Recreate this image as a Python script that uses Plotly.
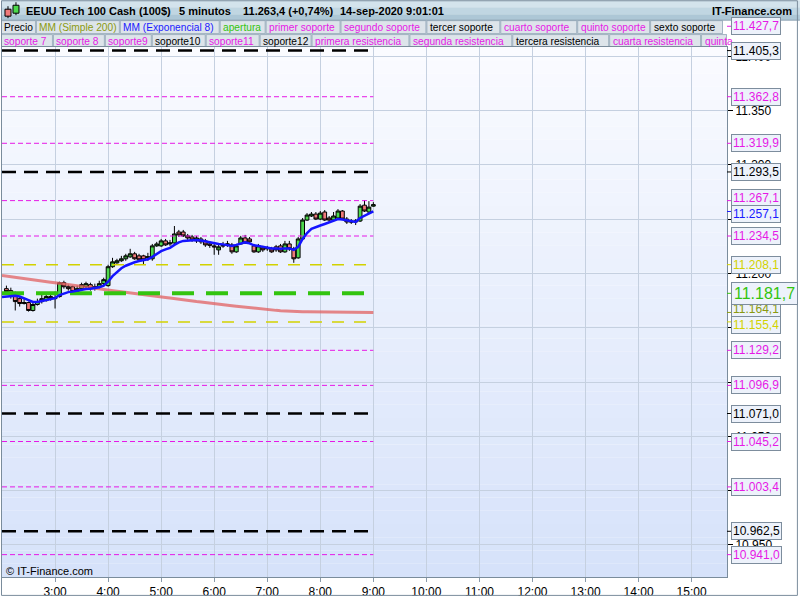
import plotly.graph_objects as go
import pandas as pd

# ---------------- data ----------------
times = pd.date_range("2020-09-14 02:00", periods=85, freq="5min")
candle_times = times[1:]

open_ = [11186.0, 11184.2, 11181.4, 11176.8, 11172.3, 11173.2, 11165.9, 11171.4, 11174.1, 11175.0,
         11178.7, 11176.8, 11178.7, 11191.5, 11187.8, 11187.8, 11183.3, 11186.0, 11187.8, 11189.7,
         11186.9, 11187.8, 11190.6, 11188.8, 11206.2, 11209.8, 11211.7, 11213.5, 11215.3, 11218.1,
         11216.2, 11216.2, 11214.4, 11213.5, 11225.4, 11225.4, 11230.0, 11227.2, 11228.1, 11238.2,
         11238.2, 11234.6, 11233.6, 11230.0, 11231.8, 11230.0, 11227.2, 11225.4, 11221.7, 11226.3,
         11226.3, 11226.3, 11219.9, 11227.2, 11232.7, 11231.8, 11225.4, 11219.9, 11223.6, 11222.7,
         11222.7, 11224.5, 11225.4, 11219.9, 11227.2, 11222.7, 11214.4, 11231.8, 11249.2, 11252.9,
         11254.7, 11250.1, 11256.6, 11251.1, 11249.2, 11251.1, 11257.5, 11250.1, 11248.3, 11247.4,
         11248.3, 11262.9, 11256.6, 11262.0]
high = [11188.8, 11186.9, 11183.3, 11178.7, 11176.8, 11174.1, 11173.2, 11176.8, 11180.5, 11181.4,
        11181.4, 11183.3, 11192.4, 11193.3, 11189.7, 11188.8, 11188.8, 11191.5, 11192.4, 11191.5,
        11190.6, 11193.3, 11196.1, 11208.0, 11214.4, 11213.5, 11216.2, 11218.1, 11222.7, 11219.9,
        11218.1, 11217.2, 11219.0, 11227.2, 11229.1, 11231.8, 11231.8, 11230.9, 11243.7, 11240.1,
        11240.1, 11236.4, 11235.5, 11234.6, 11233.6, 11231.8, 11229.1, 11228.1, 11227.2, 11229.1,
        11230.0, 11228.1, 11227.2, 11234.6, 11235.5, 11233.6, 11227.2, 11227.2, 11225.4, 11225.4,
        11224.5, 11226.3, 11227.2, 11230.0, 11230.0, 11224.5, 11233.6, 11251.1, 11255.6, 11256.6,
        11256.6, 11257.5, 11258.4, 11252.9, 11256.6, 11259.3, 11258.4, 11252.0, 11250.1, 11250.1,
        11263.9, 11267.5, 11266.6, 11265.7]
low = [11181.4, 11176.8, 11165.9, 11169.5, 11171.4, 11164.9, 11164.9, 11170.4, 11172.3, 11174.1,
       11175.0, 11167.7, 11177.8, 11186.0, 11184.2, 11182.3, 11181.4, 11185.1, 11186.0, 11184.2,
       11184.2, 11186.0, 11188.8, 11187.8, 11205.2, 11208.9, 11210.7, 11211.7, 11214.4, 11212.6,
       11211.7, 11208.0, 11211.7, 11211.7, 11224.5, 11224.5, 11225.4, 11225.4, 11227.2, 11233.6,
       11233.6, 11230.9, 11229.1, 11228.1, 11227.2, 11224.5, 11223.6, 11217.2, 11217.2, 11223.6,
       11224.5, 11218.1, 11219.0, 11226.3, 11227.2, 11227.2, 11219.0, 11219.0, 11219.9, 11220.8,
       11219.0, 11219.9, 11219.0, 11219.0, 11220.8, 11209.8, 11213.5, 11230.9, 11248.3, 11252.0,
       11249.2, 11249.2, 11248.3, 11246.5, 11247.4, 11250.1, 11249.2, 11245.6, 11245.6, 11244.6,
       11247.4, 11256.6, 11255.6, 11261.5]
close = [11183.3, 11181.4, 11174.1, 11172.3, 11173.2, 11165.9, 11171.4, 11174.1, 11176.8, 11178.7,
         11176.8, 11177.8, 11191.5, 11187.8, 11186.0, 11183.3, 11186.0, 11189.7, 11190.6, 11186.0,
         11187.8, 11190.6, 11194.3, 11206.2, 11210.7, 11211.7, 11213.5, 11216.2, 11218.1, 11213.5,
         11212.6, 11212.6, 11215.3, 11225.4, 11227.2, 11230.0, 11226.3, 11228.1, 11236.4, 11235.5,
         11234.6, 11232.7, 11230.9, 11232.7, 11229.1, 11226.3, 11225.9, 11224.5, 11224.5, 11225.4,
         11227.2, 11219.9, 11225.4, 11232.7, 11228.1, 11229.1, 11219.9, 11225.4, 11221.7, 11223.6,
         11219.9, 11221.7, 11219.9, 11227.2, 11222.7, 11213.5, 11231.8, 11249.2, 11253.8, 11254.7,
         11250.1, 11255.6, 11249.2, 11249.2, 11252.9, 11257.5, 11250.1, 11247.4, 11247.4, 11248.3,
         11262.0, 11257.5, 11261.1, 11263.4]
ema8 = [11178.4, 11178.7, 11179.2, 11179.4, 11178.7, 11177.3, 11175.5, 11173.7, 11173.7, 11174.6,
        11175.5, 11176.4, 11177.3, 11180.1, 11181.4, 11182.8, 11183.3, 11184.2, 11185.1, 11185.6,
        11186.0, 11186.5, 11187.2, 11188.8, 11192.4, 11197.5, 11201.6, 11204.8, 11207.1, 11208.9,
        11210.3, 11211.4, 11212.2, 11213.1, 11215.3, 11218.1, 11220.5, 11222.2, 11223.6, 11226.3,
        11228.6, 11230.0, 11230.4, 11230.4, 11230.9, 11230.4, 11229.5, 11228.6, 11228.1, 11227.2,
        11226.8, 11225.9, 11225.4, 11226.3, 11227.7, 11228.6, 11227.7, 11225.9, 11225.4, 11224.5,
        11223.6, 11223.1, 11223.1, 11222.7, 11223.1, 11223.1, 11221.7, 11224.5, 11231.8, 11237.3,
        11241.0, 11242.8, 11244.2, 11245.6, 11246.9, 11248.8, 11250.1, 11249.7, 11248.8, 11248.3,
        11247.4, 11251.1, 11252.9, 11254.7, 11257.1]
sma200 = [11198.2, 11197.7, 11197.2, 11196.7, 11196.2, 11195.7, 11195.2, 11194.7, 11194.1, 11193.3,
          11192.7, 11192.0, 11191.4, 11190.8, 11190.1, 11189.7, 11189.0, 11188.5, 11187.9, 11187.4,
          11186.8, 11186.3, 11185.6, 11185.2, 11184.6, 11184.2, 11183.6, 11183.1, 11182.5, 11182.0,
          11181.4, 11180.9, 11180.4, 11179.9, 11179.3, 11178.8, 11178.3, 11177.8, 11177.3, 11176.7,
          11176.2, 11175.7, 11175.1, 11174.7, 11174.2, 11173.8, 11173.4, 11172.9, 11172.3, 11171.7,
          11171.3, 11170.8, 11170.3, 11169.8, 11169.3, 11168.9, 11168.4, 11167.9, 11167.4, 11167.0,
          11166.6, 11166.3, 11166.0, 11165.7, 11165.4, 11165.2, 11165.0, 11164.8, 11164.7, 11164.7,
          11164.7, 11164.7, 11164.7, 11164.6, 11164.5, 11164.4, 11164.3, 11164.3, 11164.2, 11164.2,
          11164.2, 11164.1, 11164.1, 11164.1, 11164.1]

level_values = [11427.7, 11405.3, 11362.8, 11319.9, 11293.5, 11267.1, 11234.5, 11208.1, 11181.7,
                11155.4, 11129.2, 11096.9, 11071.0, 11045.2, 11003.4, 10962.5, 10941.0]
level_kinds = ["pink", "black", "pink", "pink", "black", "pink", "pink", "yellow", "green",
               "yellow", "pink", "pink", "black", "pink", "pink", "black", "pink"]

legend_row1 = ["Precio", "MM (Simple 200)", "MM (Exponencial 8)", "apertura", "primer soporte",
               "segundo soporte", "tercer soporte", "cuarto soporte", "quinto soporte", "sexto soporte"]
legend_row1_kinds = ["black", "olive", "blue", "green", "pink", "pink", "black", "pink", "pink", "black"]
legend_row2 = ["soporte 7", "soporte 8", "soporte9", "soporte10", "soporte11", "soporte12",
               "primera resistencia", "segunda resistencia", "tercera resistencia",
               "cuarta resistencia", "quinta"]
legend_row2_kinds = ["pink", "pink", "pink", "black", "pink", "black", "pink", "pink", "black",
                     "pink", "pink"]

hour_ticks = pd.date_range("2020-09-14 03:00", periods=13, freq="60min")
hour_labels = ["3:00", "4:00", "5:00", "6:00", "7:00", "8:00", "9:00", "10:00", "11:00",
               "12:00", "13:00", "14:00", "15:00"]
y_ticks = [10950, 11000, 11050, 11100, 11150, 11200, 11250, 11300, 11350, 11400]

title_parts = ["EEUU Tech 100 Cash (100$)", "5 minutos", "11.263,4 (+0,74%)", "14-sep-2020 9:01:01"]

# ---------------- styles ----------------
FONT = "Liberation Sans, Arial, sans-serif"
COL = {"pink": "#e619e6", "black": "#000000", "yellow": "#d2d200", "green": "#33c40f",
       "olive": "#8a9a10", "blue": "#1a1aff"}
DASH = {"pink": ("5px,3px", 1), "black": ("14px,8px", 2.5), "yellow": ("12px,10px", 1.5),
        "green": ("22px,12px", 4)}

W, H = 800, 600
L, R, T, B = 1, 73, 47, 20
PW, PH = W - L - R, H - T - B
YMIN, YMAX = 10920.4, 11408.6
X0, X1 = pd.Timestamp("2020-09-14 02:00"), pd.Timestamp("2020-09-14 15:40")


def xp(px):
    return (px - L) / PW


def yp(py):
    return 1 - (py - T) / PH


def yfrac(v):
    return (v - YMIN) / (YMAX - YMIN)


def fmt(v, dec=1):
    s = f"{v:,.{dec}f}"
    return s.replace(",", "X").replace(".", ",").replace("X", ".")


fig = go.Figure()

# SMA 200
fig.add_trace(go.Scatter(x=times, y=sma200, mode="lines",
                         line=dict(color="rgba(226,96,96,0.75)", width=3), hoverinfo="skip"))

# level lines (end at last candle)
for v, k in zip(level_values, level_kinds):
    d, w = DASH[k]
    fig.add_trace(go.Scatter(x=[times[0], times[-1]], y=[v, v], mode="lines",
                             line=dict(color=COL[k], width=w, dash=d), hoverinfo="skip"))

# candles
fig.add_trace(go.Candlestick(x=candle_times, open=open_, high=high, low=low, close=close,
                             increasing=dict(line=dict(color="#000000", width=1), fillcolor="#4cd94c"),
                             decreasing=dict(line=dict(color="#000000", width=1), fillcolor="#f07a7a"),
                             whiskerwidth=0, hoverinfo="skip"))

# EMA 8
fig.add_trace(go.Scatter(x=times, y=ema8, mode="lines",
                         line=dict(color="#1414ff", width=2.5), hoverinfo="skip"))

shapes = []
annotations = []

# plot background gradient
N = 40
c_top = (250, 251, 255)
c_bot = (214, 226, 250)
for i in range(N):
    t = (i + 0.5) / N
    c = tuple(round(c_top[j] + (c_bot[j] - c_top[j]) * t) for j in range(3))
    shapes.append(dict(type="rect", xref="paper", yref="paper", x0=0, x1=1,
                       y0=1 - (i + 1) / N, y1=1 - i / N, line=dict(width=0),
                       fillcolor=f"rgb{c}", layer="below"))

# header bar
hb = [(0, 7, "#d3e3ec"), (7, 14, "#c0d6e2"), (14, 20, "#adc7d6")]
for a, b_, c in hb:
    shapes.append(dict(type="rect", xref="paper", yref="paper", x0=xp(0), x1=xp(800),
                       y0=yp(b_), y1=yp(a), line=dict(width=0), fillcolor=c, layer="below"))
shapes.append(dict(type="line", xref="paper", yref="paper", x0=xp(0), x1=xp(800),
                   y0=yp(20), y1=yp(20), line=dict(color="#8fa3b3", width=1)))

# header icon
shapes += [
    dict(type="line", xref="paper", yref="paper", x0=xp(7), x1=xp(7), y0=yp(18), y1=yp(6),
         line=dict(color="#000", width=1)),
    dict(type="rect", xref="paper", yref="paper", x0=xp(4), x1=xp(10), y0=yp(16), y1=yp(9),
         line=dict(color="#000", width=1), fillcolor="#f07a7a"),
    dict(type="line", xref="paper", yref="paper", x0=xp(15), x1=xp(15), y0=yp(15), y1=yp(2),
         line=dict(color="#000", width=1)),
    dict(type="rect", xref="paper", yref="paper", x0=xp(12), x1=xp(18), y0=yp(13), y1=yp(5),
         line=dict(color="#000", width=1), fillcolor="#4cd94c"),
]

title_x = [23, 176, 240, 337]
for txt, x in zip(title_parts, title_x):
    annotations.append(dict(text=f"<b>{txt}</b>", xref="paper", yref="paper", x=xp(x), y=yp(10.5),
                            xanchor="left", yanchor="middle", showarrow=False,
                            font=dict(family=FONT, size=11, color="#000")))
annotations.append(dict(text="<b>IT-Finance.com</b>", xref="paper", yref="paper", x=xp(794), y=yp(10.5),
                        xanchor="right", yanchor="middle", showarrow=False,
                        font=dict(family=FONT, size=11, color="#000")))

# legend rows
row1_edges = [0, 35, 119, 219, 265, 340, 426, 500, 577, 650, 723]
row2_edges = [0, 52, 104, 151, 205, 259, 311, 409, 512, 609, 701, 727]
for names, kinds, edges, (ya, yb) in [(legend_row1, legend_row1_kinds, row1_edges, (20, 34)),
                                      (legend_row2, legend_row2_kinds, row2_edges, (34, 47))]:
    shapes.append(dict(type="rect", xref="paper", yref="paper", x0=xp(edges[0]), x1=xp(edges[-1]),
                       y0=yp(yb), y1=yp(ya), line=dict(width=0), fillcolor="#b9cbd7", layer="below"))
    for i, (nm, k) in enumerate(zip(names, kinds)):
        shapes.append(dict(type="rect", xref="paper", yref="paper", x0=xp(edges[i] + 0.5),
                           x1=xp(edges[i + 1] - 0.5), y0=yp(yb - 0.5), y1=yp(ya + 0.5),
                           line=dict(color="#a3b4c2", width=1), fillcolor="#dde4ea", layer="below"))
        annotations.append(dict(text=nm, xref="paper", yref="paper", x=xp(edges[i] + 1.5),
                                y=yp((ya + yb) / 2 + 0.5), xanchor="left", yanchor="middle",
                                showarrow=False, font=dict(family=FONT, size=10.2, color=COL[k])))

# right-side value labels (boxes nudged apart when they would collide)
labels = [(v, COL[k]) for v, k in zip(level_values, level_kinds) if k != "green"]
labels += [(ema8[-1], COL["blue"]), (sma200[-1], COL["olive"])]
labels.sort(key=lambda t: -t[0])
pos = [yfrac(v) for v, _ in labels]
MIN_GAP = 16 / PH
for i in range(1, len(pos)):
    gap = pos[i - 1] - pos[i]
    if gap < MIN_GAP:
        push = (MIN_GAP - gap) / 2
        pos[i - 1] += push
        pos[i] -= push
for (v, c), p in zip(labels, pos):
    shapes.append(dict(type="line", xref="paper", yref="paper", x0=1, x1=xp(731),
                       y0=yfrac(v), y1=yfrac(v), line=dict(color=c, width=1)))
    annotations.append(dict(text=fmt(v), xref="paper", yref="paper", x=xp(731), y=p,
                            xanchor="left", yanchor="middle", showarrow=False,
                            font=dict(family=FONT, size=12, color=c),
                            bgcolor="#edf2fb", bordercolor="#7d8d9d", borderwidth=1, borderpad=1))
# apertura label (large)
ap = [v for v, k in zip(level_values, level_kinds) if k == "green"][0]
shapes.append(dict(type="line", xref="paper", yref="paper", x0=1, x1=xp(731),
                   y0=yfrac(ap), y1=yfrac(ap), line=dict(color=COL["green"], width=1)))
annotations.append(dict(text=fmt(ap), xref="paper", yref="paper", x=xp(731), y=yfrac(ap),
                        xanchor="left", yanchor="middle", showarrow=False,
                        font=dict(family=FONT, size=16, color=COL["green"]),
                        bgcolor="#edf2fb", bordercolor="#7d8d9d", borderwidth=1, borderpad=2))

# copyright
annotations.append(dict(text="© IT-Finance.com", xref="paper", yref="paper", x=xp(3), y=yp(574),
                        xanchor="left", yanchor="middle", showarrow=False,
                        font=dict(family=FONT, size=11, color="#000")))

# outer frame
shapes.append(dict(type="rect", xref="paper", yref="paper", x0=xp(0.5), x1=xp(797.5),
                   y0=yp(598.5), y1=yp(0.5), line=dict(color="#7a8c9c", width=1)))

fig.update_layout(
    width=W, height=H, margin=dict(l=L, r=R, t=T, b=B, pad=0),
    paper_bgcolor="#ffffff", plot_bgcolor="rgba(0,0,0,0)",
    showlegend=False, separators=",.", boxgap=0.1, boxgroupgap=0.05,
    shapes=shapes, annotations=annotations,
    xaxis=dict(type="date", range=[X0, X1], tickvals=hour_ticks, ticktext=hour_labels,
               showgrid=True, gridcolor="#c5d0e0", gridwidth=1, ticks="outside", ticklen=4,
               tickcolor="#8a9aaa", showline=True, linecolor="#7a8c9c", mirror=True,
               rangeslider=dict(visible=False), zeroline=False,
               tickfont=dict(family=FONT, size=12, color="#000")),
    yaxis=dict(range=[YMIN, YMAX], side="right", tickvals=y_ticks, tickformat=",d",
               showgrid=True, gridcolor="#c5d0e0", gridwidth=1, ticks="outside", ticklen=5,
               tickcolor="#000", showline=True, linecolor="#7a8c9c", mirror=True, zeroline=False,
               tickfont=dict(family=FONT, size=12, color="#000")),
)

fig.write_html("out.html", config={"displayModeBar": False},
               post_script="document.body.style.margin='0';document.body.style.overflow='hidden';")
